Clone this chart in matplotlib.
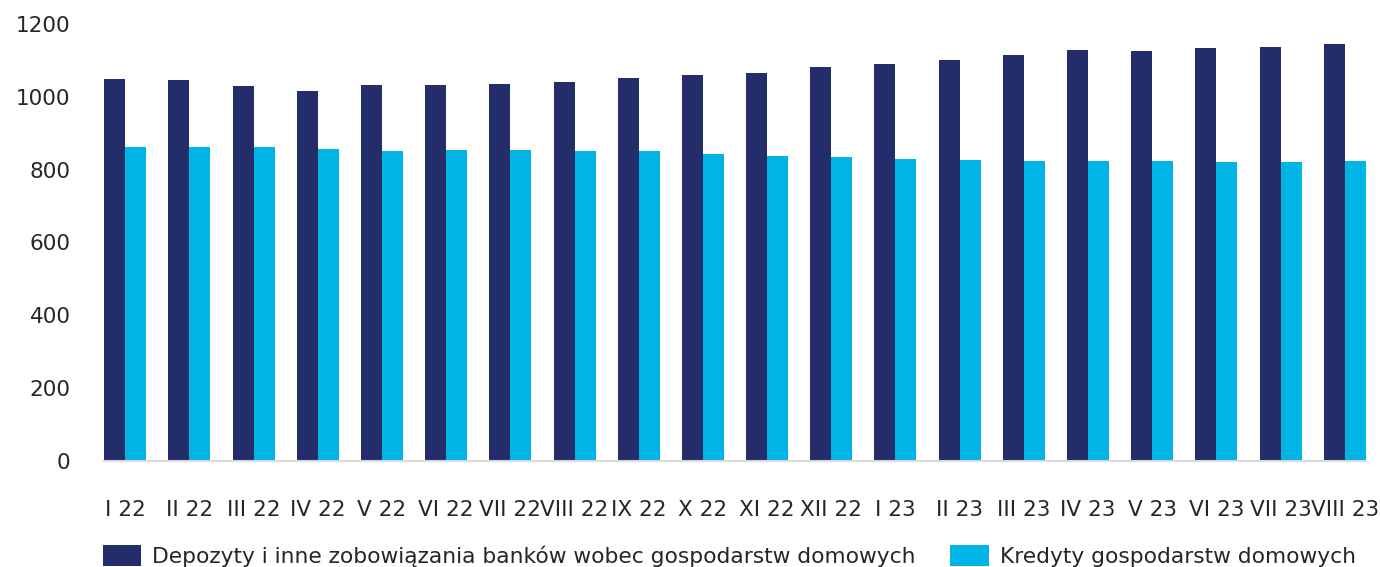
import matplotlib
matplotlib.use('Agg')
import matplotlib.pyplot as plt
import numpy as np

# dane (mld zł)
miesiace = ['I 22', 'II 22', 'III 22', 'IV 22', 'V 22', 'VI 22', 'VII 22', 'VIII 22', 'IX 22', 'X 22',
            'XI 22', 'XII 22', 'I 23', 'II 23', 'III 23', 'IV 23', 'V 23', 'VI 23', 'VII 23', 'VIII 23']
depozyty = [1048, 1045, 1030, 1016, 1032, 1032, 1035, 1040, 1051, 1059,
            1065, 1081, 1090, 1101, 1114, 1128, 1125, 1134, 1136, 1145]
kredyty = [861, 863, 861, 858, 852, 855, 855, 852, 852, 844,
           838, 836, 830, 827, 824, 824, 824, 821, 821, 824]

plt.rcParams['font.family'] = ['DejaVu Sans']

fig = plt.figure(figsize=(13.8, 5.67), dpi=100)
ax = fig.add_axes([104/1380, (567-461)/567, (1366-104)/1380, (461-24)/567])

x = np.arange(len(miesiace))
w = 0.327
ax.bar(x - w/2, depozyty, w, color='#232D69', label='Depozyty i inne zobowiązania banków wobec gospodarstw domowych')
ax.bar(x + w/2, kredyty, w, color='#00B5E6', label='Kredyty gospodarstw domowych')

ax.set_xlim(-0.33, len(miesiace) - 1 + 0.33)
ax.set_ylim(0, 1200)
ax.set_yticks(range(0, 1201, 200))
ax.set_xticks(x)
ax.set_xticklabels(miesiace)
ax.tick_params(axis='both', length=0, labelsize=15.5, colors='#262626')
ax.tick_params(axis='y', pad=24)
ax.tick_params(axis='x', pad=28)

for s in ['top', 'right', 'left']:
    ax.spines[s].set_visible(False)
ax.spines['bottom'].set_color('#d9d9d9')
ax.spines['bottom'].set_linewidth(1.5)

leg = fig.legend(loc='upper left', bbox_to_anchor=(103/1380, 1 - 545/567), ncol=2, frameon=False,
                 fontsize=15.7, handlelength=1.75, handleheight=1.1, handletextpad=0.5, columnspacing=1.6,
                 borderaxespad=0, borderpad=0)
for t in leg.get_texts():
    t.set_color('#262626')

fig.savefig('out.png', dpi=100)
